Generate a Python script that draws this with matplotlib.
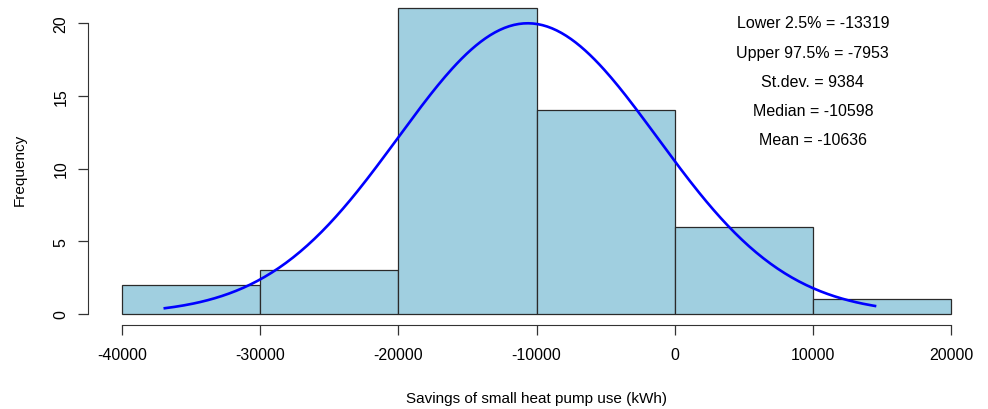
import numpy as np
import matplotlib
matplotlib.use("Agg")
import matplotlib.pyplot as plt

plt.rcParams['font.family'] = ['Liberation Sans', 'DejaVu Sans']

# histogram bins and counts
bin_edges = [-40000, -30000, -20000, -10000, 0, 10000, 20000]
counts = [2, 3, 21, 14, 6, 1]

# summary stats printed on the chart
lower_25 = -13319
upper_975 = -7953
sd = 9384
median = -10598
mean = -10636
# range of the fitted curve (approx. min/max of the sample)
curve_min, curve_max = -36900, 14500

n = sum(counts)
binwidth = bin_edges[1] - bin_edges[0]

fig = plt.figure(figsize=(9.88, 4.10), dpi=100)
ax = fig.add_axes([122 / 988, 1 - 315 / 410, (951 - 122) / 988, (315 - 24) / 410])

lefts = np.array(bin_edges[:-1])
bars = ax.bar(lefts, counts, width=binwidth, align='edge', color='#a0cfe0',
              edgecolor='#2a2a2a', linewidth=0.9)
for b in bars:
    b.set_clip_on(False)

# normal curve scaled to counts
xs = np.linspace(curve_min, curve_max, 300)
ys = n * binwidth * np.exp(-0.5 * ((xs - mean) / sd) ** 2) / (sd * np.sqrt(2 * np.pi))
ax.plot(xs, ys, color='#0000ff', linewidth=1.9, clip_on=False)

labels = [
    f"Lower 2.5% = {lower_25}",
    f"Upper 97.5% = {upper_975}",
    f"St.dev. = {sd}",
    f"Median = {median}",
    f"Mean = {mean}",
]
for i, txt in enumerate(labels):
    ax.text(10000, 20 - 2 * i, txt, ha='center', va='center', fontsize=11.5)

ax.set_xlim(-40000, 20000)
ax.set_ylim(0, 20)

# R-style detached axes
for s in ['top', 'right']:
    ax.spines[s].set_visible(False)
ax.spines['left'].set_position(('outward', 24.5))
ax.spines['bottom'].set_position(('outward', 8))
ax.spines['left'].set_bounds(0, 20)
ax.spines['bottom'].set_bounds(-40000, 20000)
ax.spines['left'].set_color('#333333')
ax.spines['bottom'].set_color('#333333')

ax.set_xticks(bin_edges)
ax.set_xticklabels([str(v) for v in bin_edges])
ax.set_yticks([0, 5, 10, 15, 20])
ax.set_yticklabels(['0', '5', '10', '15', '20'], rotation=90, va='center')
ax.tick_params(axis='both', length=7, width=0.9, color='#333333', labelsize=11.5)
ax.tick_params(axis='x', pad=9)
ax.tick_params(axis='y', pad=7)

ax.set_xlabel("Savings of small heat pump use (kWh)", fontsize=11, labelpad=21)
ax.set_ylabel("Frequency", fontsize=11, labelpad=19)

fig.savefig("out.png", dpi=100)
